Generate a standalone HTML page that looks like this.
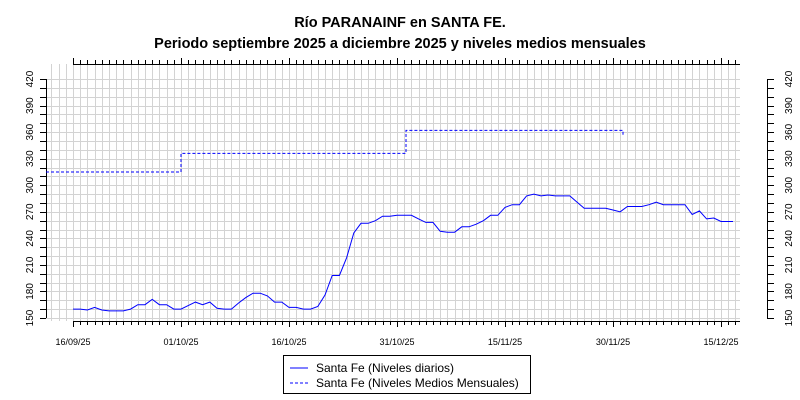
<!DOCTYPE html>
<html><head><meta charset="utf-8"><style>
body{margin:0;background:#fff;width:800px;height:400px;overflow:hidden}
svg{display:block;font-family:"Liberation Sans",sans-serif}
</style></head><body>
<svg id="s" width="800" height="400" xmlns="http://www.w3.org/2000/svg">
<text x="400" y="27" text-anchor="middle" font-size="14.5" font-weight="bold">Río PARANAINF en SANTA FE.</text>
<text x="400" y="48" text-anchor="middle" font-size="14.5" font-weight="bold">Periodo septiembre 2025 a diciembre 2025 y niveles medios mensuales</text>
<g id="grid" stroke="#d3d3d3" stroke-width="1"></g>
<g id="ax" stroke="#000" stroke-width="1"></g>
<g font-size="10" text-anchor="middle" id="yl"></g>
<g font-size="9" text-anchor="middle">
<text x="73" y="345">16/09/25</text>
<text x="181" y="345">01/10/25</text>
<text x="289" y="345">16/10/25</text>
<text x="397" y="345">31/10/25</text>
<text x="505" y="345">15/11/25</text>
<text x="613" y="345">30/11/25</text>
<text x="721" y="345">15/12/25</text>
</g>
<polyline id="mm" fill="none" stroke="#0000ff" stroke-width="1" stroke-dasharray="3,2"/>
<polyline id="dl" fill="none" stroke="#0000ff" stroke-width="1"/>
<rect x="283.5" y="355.5" width="247" height="38" fill="#fff" stroke="#000"/>
<line x1="290" y1="368" x2="308" y2="368" stroke="#0000ff"/>
<line x1="290" y1="383" x2="308" y2="383" stroke="#0000ff" stroke-dasharray="3,2"/>
<text x="316" y="372" font-size="12">Santa Fe (Niveles diarios)</text>
<text x="316" y="387" font-size="12">Santa Fe (Niveles Medios Mensuales)</text>
</svg>
<script>
const ns="http://www.w3.org/2000/svg";
function el(p,t,a){const e=document.createElementNS(ns,t);for(const k in a)e.setAttribute(k,a[k]);p.appendChild(e);return e;}
const Y=v=>318-(v-150)*0.885, X=d=>73+7.2*d;
const R=740;
const g=document.getElementById('grid'),ax=document.getElementById('ax'),yl=document.getElementById('yl');
for(let v=150;v<=420;v+=10){const y=Y(v)+.5|0;el(g,'line',{x1:46,x2:R,y1:y+.5,y2:y+.5});}
for(let d=-3;d<=96;d++){const x=Math.round(X(d))+.5;if(x<46||x>R+1)continue;el(g,'line',{x1:x,x2:x,y1:64,y2:321});}
el(ax,'line',{x1:46.5,x2:46.5,y1:Y(420),y2:Y(150)});
el(ax,'line',{x1:767.5,x2:767.5,y1:Y(420),y2:Y(150)});
el(ax,'line',{x1:73,x2:R,y1:321.5,y2:321.5});
el(ax,'line',{x1:73,x2:R,y1:64.5,y2:64.5});
for(let v=150;v<=420;v+=10){const y=Math.round(Y(v))+.5;el(ax,'line',{x1:40,x2:46,y1:y,y2:y});el(ax,'line',{x1:767,x2:774,y1:y,y2:y});}
for(let d=0;d<=96;d++){const x=Math.round(X(d))+.5;if(x>R+1)break;const L=(d%15==0)?6:4;el(ax,'line',{x1:x,x2:x,y1:321,y2:321+L});el(ax,'line',{x1:x,x2:x,y1:64,y2:64-L});}
for(let v=150;v<=420;v+=30){const y=Y(v);
 let t=el(yl,'text',{transform:`translate(33,${y}) rotate(-90)`});t.textContent=v;
 t=el(yl,'text',{transform:`translate(792,${y}) rotate(-90)`});t.textContent=v;}
const dv=[160,160,159,162,159,158,158,158,160,165,165,171,165,165,160,160,164,168,165,168,161,160,160,167,173,178,178,175,168,168,162,162,160,160,163,176,198,198,218,246,257,257,260,265,265,266,266,266,262,258,258,248,247,247,253,253,256,260,266,266,275,278,278,288,290,288,289,288,288,288,281,274,274,274,274,272,270,276,276,276,278,281,278,278,278,278,267,271,262,263,259,259,259];
document.getElementById('dl').setAttribute('points',dv.slice(0,92).map((v,i)=>X(i).toFixed(1)+','+Y(v).toFixed(1)).join(' ')+' 733,'+Y(259).toFixed(1));
const m=[[46,315],[181,315],[181,336],[406,336],[406,362],[623,362]];
document.getElementById('mm').setAttribute('points',m.map(p=>p[0]+','+Y(p[1]).toFixed(1)).join(' ')+' 623,'+(Y(362)+5).toFixed(1));
</script>
</body></html>
